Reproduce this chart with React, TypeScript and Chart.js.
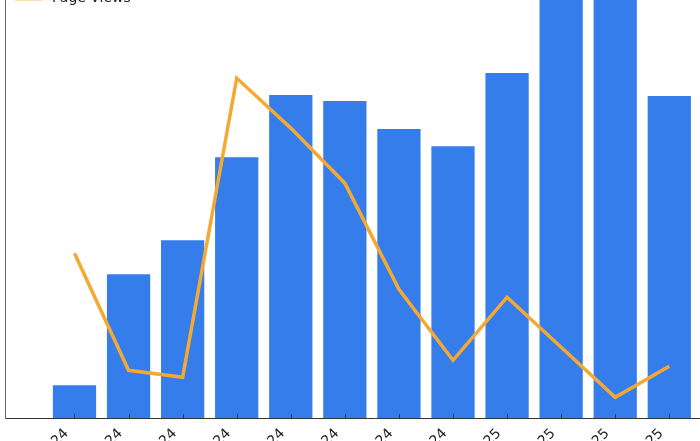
import React, { useEffect, useRef } from "react";
import { Chart, registerables } from "chart.js";

Chart.register(...registerables);

const months = [
  "May 2024", "Jun 2024", "Jul 2024", "Aug 2024", "Sep 2024", "Oct 2024",
  "Nov 2024", "Dec 2024", "Jan 2025", "Feb 2025", "Mar 2025", "Apr 2025",
];
const sessions = [330, 1440, 1780, 2610, 3230, 3170, 2890, 2720, 3450, 4420, 4380, 3220];
const pageViews = [3300, 960, 820, 6800, 5800, 4700, 2580, 1160, 2420, 1420, 420, 1040];
const sessionsMax = 4640;
const pageViewsMax = 9280;
const xMin = -1.285;
const xMax = 12.4;

const BLUE = "#347DEA";
const ORANGE = "#F5A932";
const FONT = "'DejaVu Sans', sans-serif";
const TEXT = "#222222";

export default function App() {
  const wrapRef = useRef<HTMLDivElement>(null);
  const canvasRef = useRef<HTMLCanvasElement>(null);

  useEffect(() => {
    const canvas = canvasRef.current!;
    const wrap = wrapRef.current!;
    const targetLeft = 5;
    const targetTop = -46;
    const targetW = (xMax - xMin) * 54.09;
    const targetH = 464;

    const legendPlugin = {
      id: "innerLegend",
      afterDraw(chart: any) {
        const { ctx, chartArea: ca } = chart;
        ctx.save();
        ctx.font = `14px ${FONT}`;
        ctx.textBaseline = "middle";
        ctx.textAlign = "left";
        const x0 = ca.left + 10;
        const y1 = ca.top + 21;
        const y2 = ca.top + 44;
        ctx.fillStyle = BLUE;
        ctx.fillRect(x0, y1 - 5, 28, 10);
        ctx.fillStyle = TEXT;
        ctx.fillText(chart.data.datasets[0].label, x0 + 37, y1);
        ctx.strokeStyle = ORANGE;
        ctx.lineWidth = 3.5;
        ctx.beginPath();
        ctx.moveTo(x0, y2 + 0.6);
        ctx.lineTo(x0 + 28, y2 + 0.6);
        ctx.stroke();
        ctx.fillText(chart.data.datasets[1].label, x0 + 37, y2);
        ctx.restore();
      },
    };

    const tickPlugin = {
      id: "innerTicks",
      afterDatasetsDraw(chart: any) {
        const { ctx, chartArea: ca } = chart;
        const xs = chart.scales.x;
        ctx.save();
        ctx.strokeStyle = "#333333";
        ctx.lineWidth = 1;
        months.forEach((_, i) => {
          const px = Math.round(xs.getPixelForValue(i)) + 0.5;
          ctx.beginPath();
          ctx.moveTo(px, ca.bottom);
          ctx.lineTo(px, ca.bottom - 4);
          ctx.stroke();
        });
        ctx.restore();
      },
    };

    const makeConfig = (): any => ({
      type: "bar",
      data: {
        datasets: [
          {
            type: "bar",
            label: "Sessions",
            data: months.map((_, i) => ({ x: i, y: sessions[i] })),
            backgroundColor: BLUE,
            borderWidth: 0,
            categoryPercentage: 1,
            barPercentage: 0.8,
            yAxisID: "y",
            order: 1,
          },
          {
            type: "line",
            label: "Page Views",
            data: months.map((_, i) => ({ x: i, y: pageViews[i] })),
            borderColor: ORANGE,
            backgroundColor: ORANGE,
            borderWidth: 3.5,
            pointRadius: 0,
            tension: 0,
            borderJoinStyle: "miter",
            borderCapStyle: "butt",
            yAxisID: "y1",
            order: 0,
          },
        ],
      },
      options: {
        responsive: false,
        animation: false,
        devicePixelRatio: 1,
        layout: { padding: 0 },
        plugins: { legend: { display: false }, tooltip: { enabled: false } },
        scales: {
          x: {
            type: "linear",
            offset: false,
            min: xMin,
            max: xMax,
            afterBuildTicks: (s: any) => {
              s.ticks = months.map((_, i) => ({ value: i }));
            },
            grid: { display: false, drawTicks: false, offset: false },
            border: { display: true, color: "#333333", width: 1 },
            ticks: {
              autoSkip: false,
              minRotation: 45,
              maxRotation: 45,
              padding: 7,
              labelOffset: -8,
              color: TEXT,
              font: { family: FONT, size: 14 },
              callback: (v: any) => months[v] ?? "",
            },
          },
          y: {
            position: "left",
            min: 0,
            max: sessionsMax,
            grid: { display: false },
            ticks: { display: false },
            border: { display: true, color: "#666666", width: 1 },
          },
          y1: {
            position: "right",
            min: 0,
            max: pageViewsMax,
            display: false,
          },
        },
      },
      plugins: [tickPlugin, legendPlugin],
    });

    let w = 900;
    let h = 620;
    const build = () => {
      canvas.width = w;
      canvas.height = h;
      canvas.style.width = w + "px";
      canvas.style.height = h + "px";
      return new Chart(canvas, makeConfig());
    };
    let chart = build();
    let ca = chart.chartArea;
    w = Math.round(w + targetW - (ca.right - ca.left));
    h = Math.round(h + targetH - (ca.bottom - ca.top));
    chart.destroy();
    chart = build();
    ca = chart.chartArea;
    wrap.style.left = targetLeft - ca.left + "px";
    wrap.style.top = targetTop - ca.top + "px";
    return () => chart.destroy();
  }, []);

  return (
    <div ref={wrapRef} style={{ position: "fixed", left: 0, top: 0 }}>
      <canvas ref={canvasRef} />
    </div>
  );
}
